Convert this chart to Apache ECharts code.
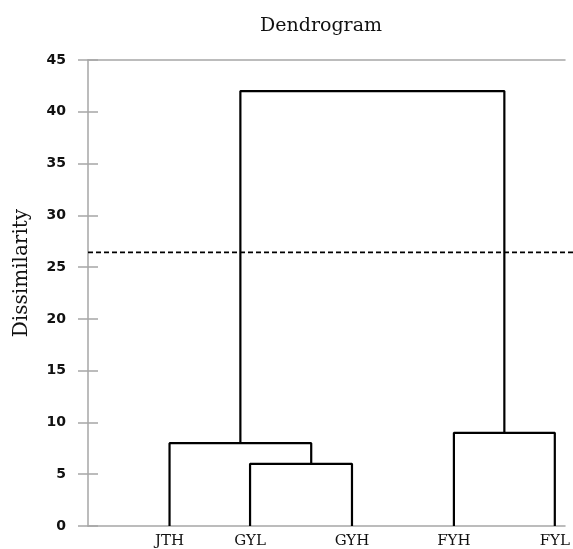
<!DOCTYPE html>
<html>
<head>
<meta charset="utf-8">
<script src="https://cdn.jsdelivr.net/npm/echarts@6/dist/echarts.min.js"></script>
<style>html,body{margin:0;padding:0;background:#fff}#c{width:573px;height:549px}</style>
</head>
<body>
<div id="c"></div>
<script>
// Leaves (left to right) and their horizontal positions (axis units)
const leafNames = ['JTH', 'GYL', 'GYH', 'FYH', 'FYL'];
const leafX = [0.80, 1.59, 2.59, 3.59, 4.58];

// Merges: children, merge height (dissimilarity), merge node x position
const mergeNames = ['A', 'B', 'C', 'D'];
const mergeLeft = ['GYL', 'JTH', 'FYH', 'B'];
const mergeRight = ['GYH', 'A', 'FYL', 'C'];
const mergeHeight = [6, 8, 9, 42];
const mergeX = [2.19, 1.495, 4.085, 2.79];

// Cut line
const cutHeight = 26.5;

// Axis ranges
const yMin = 0, yMax = 45, yStep = 5;
const xMin = 0, xMax = 4.68, cutLineEnd = 4.76;

const pos = {};
leafNames.forEach((n, i) => pos[n] = { x: leafX[i], h: 0 });
mergeNames.forEach((n, i) => pos[n] = { x: mergeX[i], h: mergeHeight[i] });

const series = mergeNames.map((n, i) => {
  const l = pos[mergeLeft[i]], r = pos[mergeRight[i]], h = mergeHeight[i];
  return {
    type: 'line', xAxisIndex: 0, yAxisIndex: 0, symbol: 'none', silent: true,
    lineStyle: { color: '#000', width: 2.2 }, z: 5,
    data: [[l.x, l.h], [l.x, h], [r.x, h], [r.x, r.h]]
  };
});
series.push({
  type: 'line', xAxisIndex: 2, yAxisIndex: 2, symbol: 'none', silent: true,
  lineStyle: { color: '#000', width: 1.6, type: [5, 3] }, z: 6,
  data: [[xMin, cutHeight], [cutLineEnd, cutHeight]]
});

const axisGray = '#a6a6a6';
const chart = echarts.init(document.getElementById('c'));
chart.setOption({
  animation: false,
  title: {
    text: 'Dendrogram', left: 316, top: 12, textAlign: 'center',
    textStyle: { fontFamily: 'DejaVu Serif', fontSize: 19, fontWeight: 'normal', color: '#111' }
  },
  grid: [
    { left: 88, right: 8, top: 60, bottom: 21, containLabel: false },
    { left: 88, right: 0, top: 60, bottom: 21, containLabel: false }
  ],
  xAxis: [{
    type: 'value', gridIndex: 0, min: xMin, max: xMax, position: 'bottom',
    axisLine: { show: true, onZero: false, lineStyle: { color: axisGray, width: 1.5 } },
    axisTick: { show: false },
    splitLine: { show: false },
    axisLabel: {
      show: true, customValues: leafX, margin: 8,
      fontFamily: 'DejaVu Serif', fontSize: 15, color: '#111',
      formatter: v => {
        let best = 0;
        leafX.forEach((x, i) => { if (Math.abs(x - v) < Math.abs(leafX[best] - v)) best = i; });
        return leafNames[best];
      }
    }
  }, {
    type: 'value', gridIndex: 0, min: xMin, max: xMax, position: 'top',
    axisLine: { show: true, onZero: false, lineStyle: { color: axisGray, width: 1.5 } },
    axisTick: { show: false }, axisLabel: { show: false }, splitLine: { show: false }
  }, {
    type: 'value', gridIndex: 1, min: xMin, max: cutLineEnd, show: false
  }],
  yAxis: [{
    type: 'value', gridIndex: 0, min: yMin, max: yMax, interval: yStep, position: 'left',
    name: 'Dissimilarity', nameLocation: 'middle', nameGap: 56, nameRotate: 90,
    nameTextStyle: { fontFamily: 'DejaVu Serif', fontSize: 20, color: '#111', padding: [0, 0, 0, 40] },
    axisLine: { show: true, onZero: false, lineStyle: { color: axisGray, width: 1.5 } },
    axisTick: { show: true, length: 10, lineStyle: { color: axisGray, width: 1.5 } },
    splitLine: { show: false },
    axisLabel: { margin: 22, fontFamily: 'DejaVu Sans', fontWeight: 'bold', fontSize: 14, color: '#111' }
  }, {
    type: 'value', gridIndex: 0, min: yMin, max: yMax, interval: yStep, position: 'left', offset: 0,
    axisLine: { show: true, onZero: false, lineStyle: { color: 'rgba(0,0,0,0)', width: 1 } },
    axisTick: { show: true, inside: true, length: 10, lineStyle: { color: axisGray, width: 1.5 } },
    axisLabel: { show: false }, splitLine: { show: false }
  }, {
    type: 'value', gridIndex: 1, min: yMin, max: yMax, show: false
  }],
  series: series
});
</script>
</body>
</html>
